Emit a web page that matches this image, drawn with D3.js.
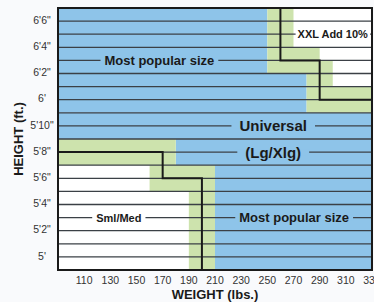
<html>
<head>
<script src="https://d3js.org/d3.v7.min.js"></script>
<style>
  body { margin: 0; background: #f9fafc; }
  svg { display: block; font-family: "Liberation Sans", Arial, Helvetica, sans-serif; }
</style>
</head>
<body>
<svg id="chart" width="374" height="302"></svg>
<script>
    // data in chart units: weight (lbs) and height (inches)
    const weightTicks = [110, 130, 150, 170, 190, 210, 230, 250, 270, 290, 310, 330];
    const heightTicks = [60, 62, 64, 66, 68, 70, 72, 74, 76, 78];
    const heightLabels = ["5'", "5'2\"", "5'4\"", "5'6\"", "5'8\"", "5'10\"", "6'", "6'2\"", "6'4\"", "6'6\""];
    const gridHeights = d3.range(60, 79);

    // [weight from, weight to, height from, height to]
    const blueZones = [
        [90, 250, 74, 79],
        [90, 280, 71, 74],
        [90, 330, 69, 71],
        [180, 330, 67, 69],
        [210, 330, 59, 67]
    ];
    const greenZones = [
        [250, 270, 76, 79],
        [250, 290, 75, 76],
        [250, 300, 74, 75],
        [280, 300, 73, 74],
        [280, 330, 71, 73],
        [90, 180, 67, 69],
        [160, 210, 65, 67],
        [190, 210, 59, 65]
    ];

    const xxlBorder = [[260, 79], [260, 75], [290, 75], [290, 72], [330, 72]];
    const smlBorder = [[90, 68], [170, 68], [170, 66], [200, 66], [200, 59]];

    const zoneText = ["Most popular size", "XXL Add 10%", "Universal", "(Lg/Xlg)", "Sml/Med", "Most popular size"];
    const zoneTextWeight = [167.5, 300, 254.5, 254.5, 136.5, 270.5];
    const zoneTextHeight = [75, 77, 70, 68, 63, 63];

    // styles for the zone labels
    const textSize = [13, 11, 15, 15, 11, 13];
    const textPad = [4, 2, 8, 8, 4, 4];
    const textBg = ["#8ec4e9", "#ffffff", "#8ec4e9", "#8ec4e9", "#ffffff", "#8ec4e9"];

    var svg = d3.select("#chart");
    var margin = {top: 8, right: 2, bottom: 32, left: 58},
        width = +svg.attr("width") - margin.left - margin.right,
        height = +svg.attr("height") - margin.top - margin.bottom;

    var x = d3.scaleLinear().domain([90, 330]).range([margin.left, margin.left + width]);
    var y = d3.scaleLinear().domain([59, 79]).range([margin.top + height, margin.top]);

    svg.append("rect")
        .attr("x", x(90)).attr("y", y(79))
        .attr("width", x(330) - x(90)).attr("height", y(59) - y(79))
        .attr("fill", "#fff");

    function zones(data, color) {
        svg.append("g").selectAll("rect").data(data).enter().append("rect")
            .attr("x", function (d) {return x(d[0]);})
            .attr("y", function (d) {return y(d[3]);})
            .attr("width", function (d) {return x(d[1]) - x(d[0]);})
            .attr("height", function (d) {return y(d[2]) - y(d[3]);})
            .attr("fill", color);
    }
    zones(blueZones, "#8ec4e9");
    zones(greenZones, "#cde3ad");

    svg.append("g").selectAll("line").data(gridHeights).enter().append("line")
        .attr("x1", x(90)).attr("x2", x(330))
        .attr("y1", function (d) {return y(d);})
        .attr("y2", function (d) {return y(d);})
        .attr("stroke", "#3b4046")
        .attr("stroke-width", 1.3);

    // zone labels with a patch behind them that breaks the grid line
    var labels = svg.append("g");
    zoneText.forEach(function (t, i) {
        var g = labels.append("g");
        var bg = g.append("rect").attr("fill", textBg[i]);
        var txt = g.append("text")
            .attr("x", x(zoneTextWeight[i]))
            .attr("y", y(zoneTextHeight[i]))
            .attr("dy", "0.36em")
            .attr("text-anchor", "middle")
            .attr("font-weight", "bold")
            .attr("font-size", textSize[i])
            .attr("fill", "#1a1a1a")
            .text(t);
        var b = txt.node().getBBox();
        bg.attr("x", b.x - textPad[i]).attr("width", b.width + 2 * textPad[i])
            .attr("y", y(zoneTextHeight[i]) - 3).attr("height", 6);
    });

    var line = d3.line()
        .x(function (d) {return x(d[0]);})
        .y(function (d) {return y(d[1]);});

    [xxlBorder, smlBorder].forEach(function (p) {
        svg.append("path").datum(p)
            .attr("d", line)
            .attr("fill", "none")
            .attr("stroke", "#1a1a1a")
            .attr("stroke-width", 2);
    });

    svg.append("rect")
        .attr("x", x(90)).attr("y", y(79))
        .attr("width", x(330) - x(90)).attr("height", y(59) - y(79))
        .attr("fill", "none")
        .attr("stroke", "#1a1a1a")
        .attr("stroke-width", 2);

    // axes text
    svg.append("g").selectAll("text").data(weightTicks).enter().append("text")
        .attr("x", function (d) {return x(d);})
        .attr("y", 284)
        .attr("text-anchor", "middle")
        .attr("font-size", 10.5)
        .attr("fill", "#333")
        .text(function (d) {return d;});

    svg.append("g").selectAll("text").data(heightTicks).enter().append("text")
        .attr("x", 42)
        .attr("y", function (d) {return y(d) - 1;})
        .attr("dy", "0.36em")
        .attr("text-anchor", "middle")
        .attr("font-size", 10.5)
        .attr("fill", "#333")
        .text(function (d, i) {return heightLabels[i];});

    svg.append("text")
        .attr("x", 215).attr("y", 299)
        .attr("text-anchor", "middle")
        .attr("font-weight", "bold")
        .attr("font-size", 13)
        .attr("fill", "#1a1a1a")
        .text("WEIGHT (lbs.)");

    svg.append("text")
        .attr("transform", "translate(23," + (margin.top + height / 2) + ") rotate(-90)")
        .attr("text-anchor", "middle")
        .attr("font-weight", "bold")
        .attr("font-size", 13)
        .attr("fill", "#1a1a1a")
        .text("HEIGHT (ft.)");
</script>
</body>
</html>
